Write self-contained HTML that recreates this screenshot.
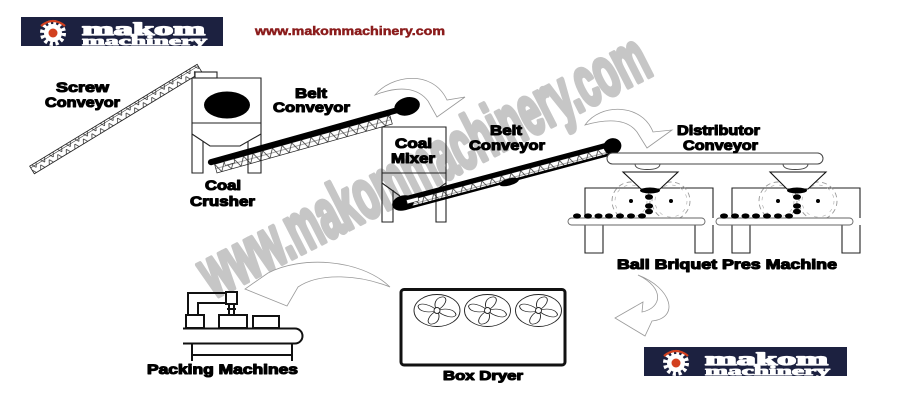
<!DOCTYPE html>
<html>
<head>
<meta charset="utf-8">
<style>
  html,body{margin:0;padding:0;background:#fff;}
  svg{display:block;}
  .lbl{font-family:"Liberation Sans",sans-serif;font-weight:bold;fill:#000;stroke:#000;stroke-width:1.1;stroke-linejoin:round;}
</style>
</head>
<body>
<svg width="900" height="405" viewBox="0 0 900 405" xmlns="http://www.w3.org/2000/svg">
  <defs>
    <pattern id="tr" width="10" height="9" patternUnits="userSpaceOnUse">
      <path d="M0,0 L5,9 L10,0" fill="none" stroke="#222" stroke-width="0.7"/>
      <path d="M0,4.5 H10" fill="none" stroke="#222" stroke-width="0.4"/>
    </pattern>
  </defs>
  <rect width="900" height="405" fill="#fff"/>

  <!-- Logo 1 -->
  <g>
    <rect x="21" y="17" width="202" height="29" fill="#1c2140"/>
    <circle cx="53" cy="33" r="10.5" fill="none" stroke="#fff" stroke-width="5" stroke-dasharray="3 2.5"/>
    <circle cx="53" cy="33" r="9" fill="#fff"/>
    <circle cx="53" cy="33" r="4.5" fill="#d2401f"/>
    <path d="M41,26 Q53,16 65,26" fill="none" stroke="#d2401f" stroke-width="2.2"/>
    <text x="82" y="35" font-family="'Liberation Serif',serif" font-weight="bold" font-size="18" fill="#fff" stroke="#fff" stroke-width="1.3" stroke-linejoin="round" textLength="123" lengthAdjust="spacingAndGlyphs">makom</text>
    <text x="82" y="45" font-family="'Liberation Serif',serif" font-weight="bold" font-size="13" fill="#fff" stroke="#fff" stroke-width="0.9" stroke-linejoin="round" textLength="125" lengthAdjust="spacingAndGlyphs">machinery</text>
  </g>

  <!-- URL -->
  <text x="255" y="35" font-family="'Liberation Sans',sans-serif" font-weight="bold" font-size="12" fill="#8b1c1c" stroke="#8b1c1c" stroke-width="0.5" textLength="190" lengthAdjust="spacingAndGlyphs">www.makommachinery.com</text>

  <!-- Screw conveyor -->
  <g transform="translate(32,170) rotate(-31.3)">
    <rect x="0" y="-4.5" width="196" height="9" fill="url(#tr)" stroke="#222" stroke-width="0.8"/>
    <line x1="0" y1="-2.5" x2="196" y2="-2.5" stroke="#222" stroke-width="0.5"/>
  </g>

  <!-- Watermark -->
  <text transform="translate(434,186) rotate(-27)" text-anchor="middle" font-family="'Liberation Sans',sans-serif" font-weight="bold" font-size="70" fill="#c6c6c6" stroke="#c6c6c6" stroke-width="5" stroke-linejoin="round" textLength="495" lengthAdjust="spacingAndGlyphs">www.makommachinery.com</text>

  <!-- Coal crusher -->
  <g fill="none" stroke="#222" stroke-width="1.1">
    <rect x="195" y="72" width="22" height="6" fill="#fff"/>
    <path d="M192,78 H261 V173 H248 V141.5 M192,78 V173 H203 V141"/>
    <line x1="192" y1="123" x2="261" y2="123"/>
    <path d="M192,134 L210,146 L240,146 L261,134"/>
  </g>
  <ellipse cx="227" cy="105" rx="23" ry="13.5" fill="#000"/>

  <!-- Belt conveyor 1 -->
  <g transform="translate(208,163) rotate(-15.6)">
    <g transform="translate(6,3)">
      <rect x="0" y="0" width="182" height="9" fill="url(#tr)" stroke="#222" stroke-width="0.7"/>
    </g>
    <rect x="0" y="-3" width="207" height="6" rx="3" fill="#000"/>
    <ellipse cx="207" cy="-1" rx="13" ry="9" fill="#000"/>
    <rect x="16" y="3" width="10" height="4" fill="#fff" stroke="#222" stroke-width="0.6"/>
  </g>

  <!-- Arrow 1 -->
  <path d="M375,95 C390,76 432,68 447,100 L465,97 L437,117 L428,101 C418,88 400,85 375,95 Z" fill="#fff" stroke="#999" stroke-width="0.8"/>

  <!-- Coal mixer -->
  <g fill="none" stroke="#222" stroke-width="1.1">
    <path d="M382,127 H446 V222 H436 V189 M382,127 V222 H393 V190"/>
    <line x1="382" y1="173" x2="446" y2="173"/>
    <path d="M382,183 L400,196 M446,183 L430,194"/>
  </g>

  <!-- Belt conveyor 2 -->
  <g transform="translate(403,203) rotate(-14.9)">
    <g transform="translate(2,-1)">
      <rect x="0" y="0" width="208" height="7" fill="url(#tr)" stroke="#222" stroke-width="0.6"/>
    </g>
    <rect x="0" y="-6" width="217" height="5" fill="#000"/>
    <rect x="0" y="5" width="217" height="2.5" fill="#000"/>
    <ellipse cx="0" cy="0" rx="11" ry="7.5" fill="#000"/>
    <ellipse cx="217" cy="-1" rx="9" ry="8" fill="#000"/>
    <ellipse cx="108" cy="7" rx="10" ry="3.5" fill="#000"/>
    <rect x="4" y="-2" width="12" height="4" fill="#fff" stroke="#222" stroke-width="0.6"/>
  </g>

  <!-- Arrow 2 -->
  <path d="M585,125 C600,103 642,103 653,132 L672,130 L647,148 L637,132 C628,120 610,118 585,125 Z" fill="#fff" stroke="#999" stroke-width="0.8"/>

  <!-- Distributor conveyor -->
  <rect x="607" y="153" width="216" height="11" rx="5.5" fill="#fff" stroke="#444" stroke-width="1"/>
  <path d="M635,164 Q635,169.5 647,169.5 Q660,169.5 660,164" fill="none" stroke="#444" stroke-width="0.9"/>
  <path d="M783,164 Q783,169.5 795,169.5 Q808,169.5 808,164" fill="none" stroke="#444" stroke-width="0.9"/>

  <!-- Ball press machine (left) -->
  <g>
    <path d="M585,218 V188 H713 V218" fill="none" stroke="#222" stroke-width="1.1"/>
    <path d="M585,225 V253 H603 V225 M695,225 V253 H713 V225" fill="none" stroke="#222" stroke-width="1.1"/>
    <circle cx="631" cy="201" r="19" fill="none" stroke="#999" stroke-width="0.9" stroke-dasharray="5 3.5"/>
    <circle cx="631" cy="201" r="16" fill="none" stroke="#aaa" stroke-width="0.6" stroke-dasharray="3.5 5"/>
    <circle cx="671" cy="201" r="19" fill="none" stroke="#999" stroke-width="0.9" stroke-dasharray="5 3.5"/>
    <circle cx="671" cy="201" r="16" fill="none" stroke="#aaa" stroke-width="0.6" stroke-dasharray="3.5 5"/>
    <circle cx="631" cy="201" r="2" fill="#000"/>
    <circle cx="671" cy="201" r="2" fill="#000"/>
    <rect x="568" y="218" width="137" height="7" rx="3.5" fill="#fff" stroke="#666" stroke-width="0.9"/>
    <path d="M623,172 L678,172 L660,189 L641,189 Z" fill="#fff" stroke="#111" stroke-width="1.1"/>
    <ellipse cx="650" cy="190.5" rx="10" ry="3" fill="#000"/>
    <g fill="#000">
      <ellipse cx="649" cy="197" rx="4" ry="2.8"/>
      <ellipse cx="649" cy="206" rx="4" ry="2.8"/>
      <ellipse cx="649" cy="211.5" rx="4" ry="2.8"/>
      <ellipse cx="577" cy="216" rx="4" ry="2.6"/>
      <ellipse cx="588" cy="216" rx="4" ry="2.6"/>
      <ellipse cx="598.5" cy="216" rx="4" ry="2.6"/>
      <ellipse cx="609" cy="216" rx="4" ry="2.6"/>
      <ellipse cx="620" cy="216" rx="4" ry="2.6"/>
      <ellipse cx="631" cy="216" rx="4" ry="2.6"/>
      <ellipse cx="642" cy="216" rx="4" ry="2.6"/>
    </g>
  </g>
  <!-- Ball press machine (right) -->
  <g transform="translate(147,0)">
    <path d="M585,218 V188 H713 V218" fill="none" stroke="#222" stroke-width="1.1"/>
    <path d="M585,225 V253 H603 V225 M695,225 V253 H713 V225" fill="none" stroke="#222" stroke-width="1.1"/>
    <circle cx="631" cy="201" r="19" fill="none" stroke="#999" stroke-width="0.9" stroke-dasharray="5 3.5"/>
    <circle cx="631" cy="201" r="16" fill="none" stroke="#aaa" stroke-width="0.6" stroke-dasharray="3.5 5"/>
    <circle cx="671" cy="201" r="19" fill="none" stroke="#999" stroke-width="0.9" stroke-dasharray="5 3.5"/>
    <circle cx="671" cy="201" r="16" fill="none" stroke="#aaa" stroke-width="0.6" stroke-dasharray="3.5 5"/>
    <circle cx="631" cy="201" r="2" fill="#000"/>
    <circle cx="671" cy="201" r="2" fill="#000"/>
    <rect x="569" y="218" width="137" height="7" rx="3.5" fill="#fff" stroke="#666" stroke-width="0.9"/>
    <path d="M623,172 L679,172 L661,189 L640,189 Z" fill="#fff" stroke="#111" stroke-width="1.1"/>
    <ellipse cx="650" cy="190.5" rx="10" ry="3" fill="#000"/>
    <g fill="#000">
      <ellipse cx="650" cy="197" rx="4" ry="2.8"/>
      <ellipse cx="650" cy="206" rx="4" ry="2.8"/>
      <ellipse cx="650" cy="211.5" rx="4" ry="2.8"/>
      <ellipse cx="577" cy="216" rx="4" ry="2.6"/>
      <ellipse cx="588" cy="216" rx="4" ry="2.6"/>
      <ellipse cx="598.5" cy="216" rx="4" ry="2.6"/>
      <ellipse cx="609" cy="216" rx="4" ry="2.6"/>
      <ellipse cx="620" cy="216" rx="4" ry="2.6"/>
      <ellipse cx="631" cy="216" rx="4" ry="2.6"/>
      <ellipse cx="642" cy="216" rx="4" ry="2.6"/>
    </g>
  </g>

  <!-- Arrow 3 -->
  <path d="M638,275 C672,288 680,318 652,321 L645,336 L615,318 L643,302 L642,312 C662,308 665,288 638,275 Z" fill="#fff" stroke="#999" stroke-width="0.8"/>

  <!-- Logo 2 -->
  <g transform="translate(623,330)">
    <rect x="21" y="17" width="203" height="29" fill="#1c2140"/>
    <circle cx="53" cy="33" r="10.5" fill="none" stroke="#fff" stroke-width="5" stroke-dasharray="3 2.5"/>
    <circle cx="53" cy="33" r="9" fill="#fff"/>
    <circle cx="53" cy="33" r="4.5" fill="#d2401f"/>
    <path d="M41,26 Q53,16 65,26" fill="none" stroke="#d2401f" stroke-width="2.2"/>
    <text x="82" y="35" font-family="'Liberation Serif',serif" font-weight="bold" font-size="18" fill="#fff" stroke="#fff" stroke-width="1.3" stroke-linejoin="round" textLength="123" lengthAdjust="spacingAndGlyphs">makom</text>
    <text x="82" y="45" font-family="'Liberation Serif',serif" font-weight="bold" font-size="13" fill="#fff" stroke="#fff" stroke-width="0.9" stroke-linejoin="round" textLength="125" lengthAdjust="spacingAndGlyphs">machinery</text>
  </g>

  <!-- Box dryer -->
  <rect x="401" y="289.5" width="164" height="75.5" rx="3" fill="#fff" stroke="#111" stroke-width="3"/>
  <g fill="none" stroke="#222" stroke-width="0.9">
    <g transform="translate(437,310.5)">
      <ellipse cx="0" cy="0" rx="23" ry="16"/>
      <g transform="scale(1,0.72)">
        <path d="M0,0 C-4,-8 -2,-18 6,-19 C12,-17 8,-6 0,0 Z"/>
        <path d="M0,0 C8,-4 18,-2 19,6 C17,12 6,8 0,0 Z"/>
        <path d="M0,0 C4,8 2,18 -6,19 C-12,17 -8,6 0,0 Z"/>
        <path d="M0,0 C-8,4 -18,2 -19,-6 C-17,-12 -6,-8 0,0 Z"/>
      </g>
      <circle cx="0" cy="0" r="3" fill="#fff"/>
    </g>
    <g transform="translate(487.5,310.5)">
      <ellipse cx="0" cy="0" rx="23" ry="16"/>
      <g transform="scale(1,0.72)">
        <path d="M0,0 C-4,-8 -2,-18 6,-19 C12,-17 8,-6 0,0 Z"/>
        <path d="M0,0 C8,-4 18,-2 19,6 C17,12 6,8 0,0 Z"/>
        <path d="M0,0 C4,8 2,18 -6,19 C-12,17 -8,6 0,0 Z"/>
        <path d="M0,0 C-8,4 -18,2 -19,-6 C-17,-12 -6,-8 0,0 Z"/>
      </g>
      <circle cx="0" cy="0" r="3" fill="#fff"/>
    </g>
    <g transform="translate(538.5,310.5)">
      <ellipse cx="0" cy="0" rx="23" ry="16"/>
      <g transform="scale(1,0.72)">
        <path d="M0,0 C-4,-8 -2,-18 6,-19 C12,-17 8,-6 0,0 Z"/>
        <path d="M0,0 C8,-4 18,-2 19,6 C17,12 6,8 0,0 Z"/>
        <path d="M0,0 C4,8 2,18 -6,19 C-12,17 -8,6 0,0 Z"/>
        <path d="M0,0 C-8,4 -18,2 -19,-6 C-17,-12 -6,-8 0,0 Z"/>
      </g>
      <circle cx="0" cy="0" r="3" fill="#fff"/>
    </g>
  </g>

  <!-- Arrow 4 -->
  <path d="M390,287 C360,258 300,256 268,273 L245,289 L287,306 L298,287 C320,272 360,275 390,287 Z" fill="#fff" stroke="#999" stroke-width="0.8"/>

  <!-- Packing machine -->
  <g fill="none" stroke="#111" stroke-width="2">
    <path d="M183,328.5 H295 A7.5,7.5 0 0 1 295,343.5 H183"/>
    <path d="M192,343.5 V361 M292,343.5 V361 M192,355 H292"/>
    <rect x="186" y="315" width="18" height="13"/>
    <rect x="219" y="315" width="28" height="13"/>
    <rect x="253" y="316" width="26" height="12"/>
    <path d="M188,315 V293 H226 M198,315 V303 H226"/>
    <rect x="226" y="292" width="11" height="12"/>
    <path d="M229,304 V315 M234,304 V315 M227,309 H236"/>
  </g>

  <!-- Labels -->
  <text class="lbl" x="56" y="92" font-size="14" textLength="53" lengthAdjust="spacingAndGlyphs">Screw</text>
  <text class="lbl" x="45" y="107" font-size="14" textLength="75" lengthAdjust="spacingAndGlyphs">Conveyor</text>
  <text class="lbl" x="205" y="190" font-size="14" textLength="36" lengthAdjust="spacingAndGlyphs">Coal</text>
  <text class="lbl" x="190" y="206" font-size="14" textLength="65" lengthAdjust="spacingAndGlyphs">Crusher</text>
  <text class="lbl" x="295" y="98" font-size="14" textLength="32" lengthAdjust="spacingAndGlyphs">Belt</text>
  <text class="lbl" x="273" y="112" font-size="14" textLength="77" lengthAdjust="spacingAndGlyphs">Conveyor</text>
  <text class="lbl" x="395" y="148" font-size="14" textLength="37" lengthAdjust="spacingAndGlyphs">Coal</text>
  <text class="lbl" x="391" y="163" font-size="14" textLength="44" lengthAdjust="spacingAndGlyphs">Mixer</text>
  <text class="lbl" x="490" y="135" font-size="14" textLength="32" lengthAdjust="spacingAndGlyphs">Belt</text>
  <text class="lbl" x="469" y="150" font-size="14" textLength="76" lengthAdjust="spacingAndGlyphs">Conveyor</text>
  <text class="lbl" x="677" y="135" font-size="14" textLength="83" lengthAdjust="spacingAndGlyphs">Distributor</text>
  <text class="lbl" x="683" y="150" font-size="14" textLength="75" lengthAdjust="spacingAndGlyphs">Conveyor</text>
  <text class="lbl" x="617" y="269" font-size="14" textLength="220" lengthAdjust="spacingAndGlyphs">Ball Briquet Pres Machine</text>
  <text class="lbl" x="147" y="374" font-size="13.5" textLength="151" lengthAdjust="spacingAndGlyphs">Packing Machines</text>
  <text class="lbl" x="443" y="380" font-size="13" textLength="80" lengthAdjust="spacingAndGlyphs">Box Dryer</text>
</svg>
</body>
</html>
